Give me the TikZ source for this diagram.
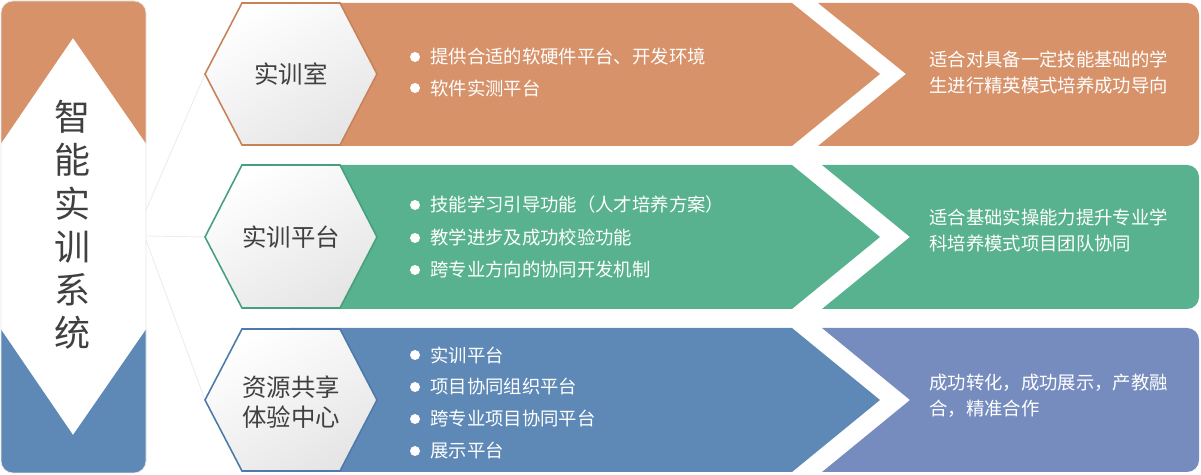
\documentclass[tikz,border=0pt]{standalone}
\usepackage{fontspec}
\setmainfont{Noto Sans CJK SC}
\usetikzlibrary{positioning}

\definecolor{barorange}{HTML}{D7926A}
\definecolor{barorangeline}{HTML}{C8825A}
\definecolor{bargreen}{HTML}{58B28F}
\definecolor{bargreenline}{HTML}{46A07E}
\definecolor{barblue}{HTML}{5E89B6}
\definecolor{barblueline}{HTML}{4D7AAA}
\definecolor{barviolet}{HTML}{778CBE}
\definecolor{textgray}{HTML}{404040}

\tikzset{
    hexlabel/.style={text=textgray, font=\fontsize{13.9}{17}\selectfont, align=center},
    itemtext/.style={anchor=west, inner sep=0pt, text=white, font=\fontsize{10.45}{14.8}\selectfont},
    notetext/.style={anchor=west, inner sep=0pt, text=white, align=left, font=\fontsize{10.45}{14.8}\selectfont},
    hexfill/.style={line width=0.9pt, shading=axis, top color=white, bottom color=gray!20, shading angle=30},
    link/.style={draw=gray!15, line width=0.5pt},
}

\begin{document}
\begin{tikzpicture}[x=0.02cm, y=-0.02cm]
    \useasboundingbox (0,0) rectangle (1201,475);

    % connectors
    \coordinate (p1) at (146,210);
    \coordinate (p2) at (146,236);
    \coordinate (p3) at (146,240);
    \coordinate (labw) at (205,74);
    \coordinate (platw) at (205,237);
    \coordinate (sharew) at (205,400);
    \draw[link] (p1) -- (labw);
    \draw[link] (p2) -- (platw);
    \draw[link] (p3) -- (sharew);

    % left panel
    \begin{scope}
        \clip[rounded corners=0.24cm] (1,1) rectangle (146,473);
        \fill[barorange] (0,0) -- (147,0) -- (147,145) -- (73,38) -- (0,145) -- cycle;
        \fill[barblue] (0,474) -- (0,328) -- (73,435) -- (147,328) -- (147,474) -- cycle;
    \end{scope}
    \draw[gray!20, rounded corners=0.24cm] (1,1) rectangle (146,473);
    \node[text=textgray, font=\fontsize{20.5}{24.6}\selectfont, align=center] (title) at (73,225) {智\\能\\实\\训\\系\\统};

    % row 1
    \fill[barorange] (290,3) -- (792,3) -- (880,74) -- (792,146) -- (290,146) -- cycle;
    \begin{scope}
        \clip[rounded corners=0.24cm] (800,3) rectangle (1199,146);
        \fill[barorange] (818,3) -- (1210,3) -- (1210,146) -- (818,146) -- (906,74) -- cycle;
    \end{scope}
    \draw[hexfill, draw=barorangeline] (labw) -- (242,3) -- (340,3) -- (377,74) -- (340,145) -- (242,145) -- cycle;
    \node[hexlabel] (lab) at (291,74) {实训室};
    \fill[white] (415,57) circle (0.1cm);
    \node[itemtext] (lab1) at (430,57) {提供合适的软硬件平台、开发环境};
    \fill[white] (415,88) circle (0.1cm);
    \node[itemtext] (lab2) at (430,88) {软件实测平台};
    \node[notetext] (labnote) at (929,73) {适合对具备一定技能基础的学\\生进行精英模式培养成功导向};

    % row 2
    \fill[bargreen] (290,165) -- (792,165) -- (880,237) -- (792,309) -- (290,309) -- cycle;
    \begin{scope}
        \clip[rounded corners=0.24cm] (800,165) rectangle (1199,309);
        \fill[bargreen] (822,165) -- (1210,165) -- (1210,309) -- (822,309) -- (910,237) -- cycle;
    \end{scope}
    \draw[hexfill, draw=bargreenline] (platw) -- (242,165) -- (340,165) -- (377,237) -- (340,308) -- (242,308) -- cycle;
    \node[hexlabel] (plat) at (291,237) {实训平台};
    \fill[white] (415,205) circle (0.1cm);
    \node[itemtext] (plat1) at (430,205) {技能学习引导功能（人才培养方案）};
    \fill[white] (415,238) circle (0.1cm);
    \node[itemtext] (plat2) at (430,238) {教学进步及成功校验功能};
    \fill[white] (415,270) circle (0.1cm);
    \node[itemtext] (plat3) at (430,270) {跨专业方向的协同开发机制};
    \node[notetext] (platnote) at (929,231) {适合基础实操能力提升专业学\\科培养模式项目团队协同};

    % row 3
    \fill[barblue] (290,328) -- (792,328) -- (880,400) -- (792,472) -- (290,472) -- cycle;
    \begin{scope}
        \clip[rounded corners=0.24cm] (800,328) rectangle (1199,472);
        \fill[barviolet] (822,328) -- (1210,328) -- (1210,472) -- (822,472) -- (910,400) -- cycle;
    \end{scope}
    \draw[hexfill, draw=barblueline] (sharew) -- (242,329) -- (340,329) -- (377,400) -- (340,471) -- (242,471) -- cycle;
    \node[hexlabel] (share) at (291,402) {资源共享\\体验中心};
    \fill[white] (415,355) circle (0.1cm);
    \node[itemtext] (share1) at (430,355) {实训平台};
    \fill[white] (415,387) circle (0.1cm);
    \node[itemtext] (share2) at (430,387) {项目协同组织平台};
    \fill[white] (415,419) circle (0.1cm);
    \node[itemtext] (share3) at (430,419) {跨专业项目协同平台};
    \fill[white] (415,451) circle (0.1cm);
    \node[itemtext] (share4) at (430,451) {展示平台};
    \node[notetext] (sharenote) at (929,396) {成功转化，成功展示，产教融\\合，精准合作};
\end{tikzpicture}
\end{document}
